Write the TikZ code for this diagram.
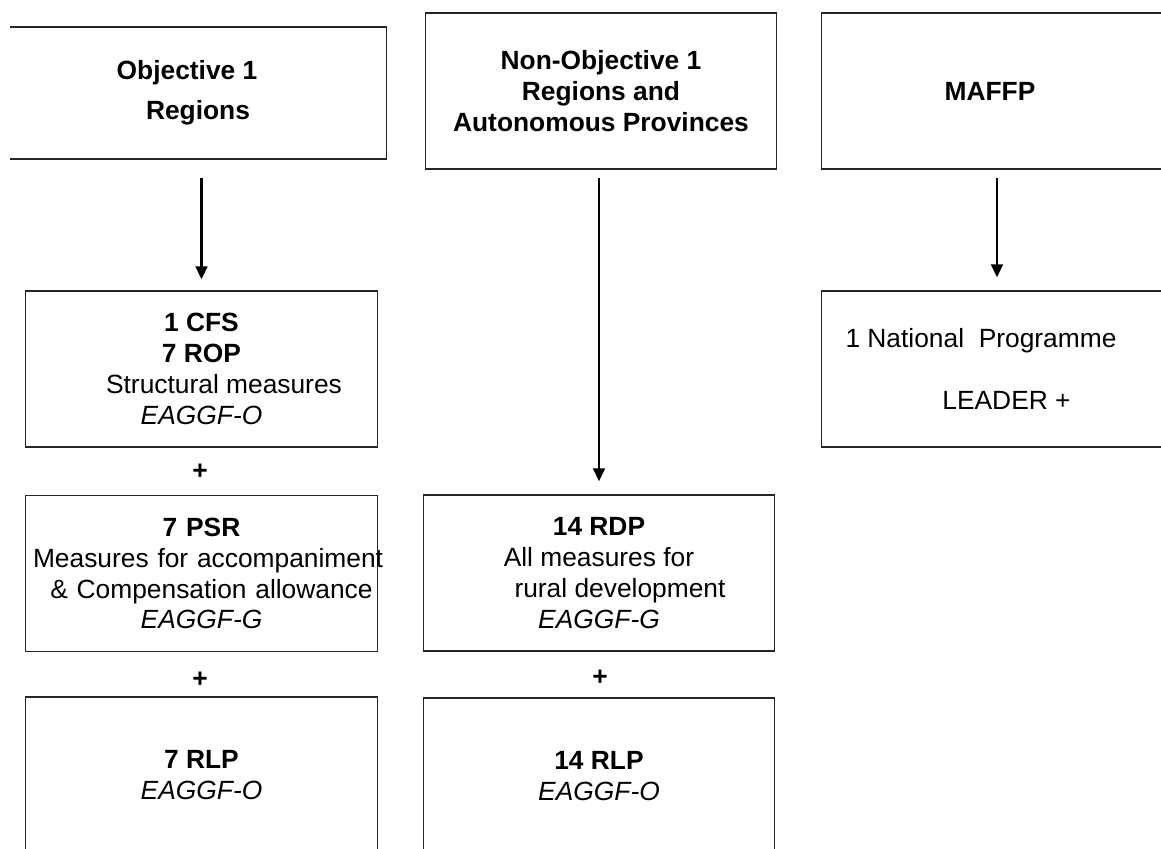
\documentclass[tikz,border=0pt]{standalone}
\usepackage{fontspec}
\setmainfont{Liberation Sans}
\usepackage{tikz}
\usetikzlibrary{positioning, arrows.meta}
\tikzset{box/.style = {draw=black!85, line width=0.6pt, minimum width=7.04cm, minimum height=3.12cm, inner sep=0pt, align=center, font=\fontsize{15}{17.6}\selectfont}}
\tikzset{link/.style = {-{Triangle[length=7.5pt,width=6.6pt]}, line width=1.6pt}}
\tikzset{plus/.style = {inner sep=0pt, font=\fontsize{15}{17.6}\selectfont\bfseries}}

\begin{document}
\begin{tikzpicture}[x=0.02cm, y=-0.02cm]
        \useasboundingbox (0,0) rectangle (1161,849);
        \clip (10,0) rectangle (1161,849);
        \node [box, minimum width=7.56cm, minimum height=2.64cm] (obj) at (198, 93) {\textbf{Objective 1}\hspace*{0.44cm}\\[5pt]\textbf{Regions}};
        \node [box] (nonobj) at (601, 91) {\textbf{Non-Objective 1}\\\textbf{Regions and}\\\textbf{Autonomous Provinces}};
        \node [box] (maffp) at (997, 91) {\textbf{MAFFP}\hspace*{0.28cm}};
        \node [box] (cfs) at (201.5, 369) {\textbf{1 CFS}\\\textbf{7 ROP}\\\hspace*{0.9cm}Structural measures\\\textit{EAGGF-O}};
        \node [box, text width=7.02cm] (psr) at (201.5, 573.5) {\textbf{7 PSR}\\\hspace*{0.14cm}\mbox{Measures for accompaniment}\\\hspace*{0.4cm}\& Compensation allowance\\\textit{EAGGF-G}};
        \node [box] (rlpA) at (201.5, 775) {\textbf{7 RLP}\\\textit{EAGGF-O}};
        \node [box] (rdp) at (599, 573) {\textbf{14 RDP}\\All measures for\hspace*{0.16cm}\\\hspace*{0.84cm}rural development\\\textit{EAGGF-G}};
        \node [box] (rlpB) at (599, 776) {\textbf{14 RLP}\\\textit{EAGGF-O}};
        \node [box] (nat) at (997, 369) {1 National~~Programme\hspace*{0.64cm}\\[17.6pt]\hspace*{0.38cm}LEADER +};
        \node [plus] (p1) at (200, 472) {+};
        \node [plus] (p2) at (200, 680) {+};
        \node [plus] (p3) at (600, 678) {+};
        \draw [link, shorten <=0.36cm, shorten >=0.22cm] (obj.south -| cfs.north) -- (cfs.north);
        \draw [link, shorten <=0.16cm, shorten >=0.26cm] (nonobj.south -| rdp.north) -- (rdp.north);
        \draw [link, shorten <=0.16cm, shorten >=0.26cm] (maffp.south) -- (nat.north);
    \end{tikzpicture}
\end{document}
